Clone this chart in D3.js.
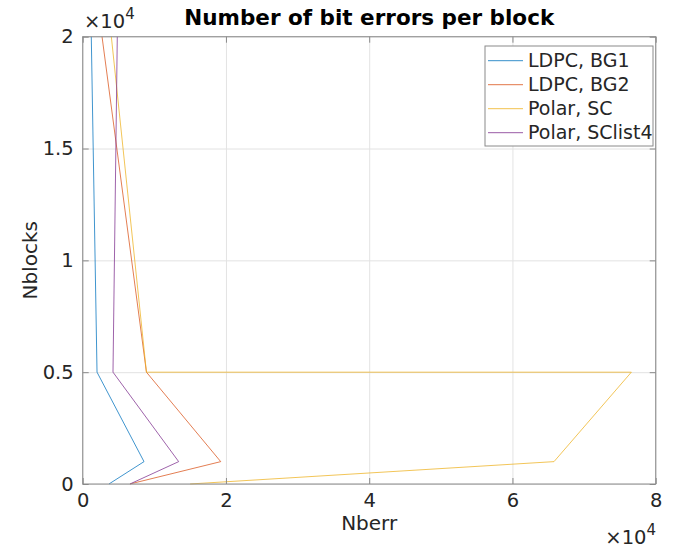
<!DOCTYPE html>
<html>
<head>
<meta charset="utf-8">
<script src="https://cdn.jsdelivr.net/npm/d3@7"></script>
<style>
  html, body { margin: 0; padding: 0; background: #fff; }
  svg { display: block; font-family: "DejaVu Sans", sans-serif; }
</style>
</head>
<body>
<svg id="chart" width="677" height="549"></svg>
<script>
// Number of blocks simulated (shared y values for every series)
const nblocks = [1, 1000, 5000, 5000, 20000];

// Accumulated bit errors for each coding scheme
const ldpcBG1  = [3670, 8560, 2000, 2000, 1200];
const ldpcBG2  = [6600, 19270, 8900, 8900, 2700];
const polarSC  = [15000, 65800, 76600, 8900, 4000];
const polarSCL = [6600, 13400, 4230, 4230, 4830];

const seriesNames  = ["LDPC, BG1", "LDPC, BG2", "Polar, SC", "Polar, SClist4"];
const seriesValues = [ldpcBG1, ldpcBG2, polarSC, polarSCL];
const seriesColors = ["#0072BD", "#D95319", "#EDB120", "#7E2F8E"];

// Axis ticks and their labels (values are shown scaled by 10^4)
const xTicks = [0, 20000, 40000, 60000, 80000];
const xTickLabels = ["0", "2", "4", "6", "8"];
const yTicks = [0, 5000, 10000, 15000, 20000];
const yTickLabels = ["0", "0.5", "1", "1.5", "2"];

const titleText = "Number of bit errors per block";
const xLabel = "Nberr";
const yLabel = "Nblocks";

const svg = d3.select("#chart");
const plotLeft = 82.7, plotRight = 655.7, plotTop = 36.7, plotBottom = 484;
const textColor = "#262626";
const frameColor = "#8a8a8a";

const x = d3.scaleLinear().domain([0, 80000]).range([plotLeft, plotRight]);
const y = d3.scaleLinear().domain([0, 20000]).range([plotBottom, plotTop]);

// Grid lines
const grid = svg.append("g").attr("class", "grid");
grid.append("g")
  .attr("transform", `translate(0,${plotBottom})`)
  .call(d3.axisBottom(x).tickValues(xTicks).tickSize(-(plotBottom - plotTop)).tickFormat(""))
  .call(g => g.select(".domain").remove());
grid.append("g")
  .attr("transform", `translate(${plotLeft},0)`)
  .call(d3.axisLeft(y).tickValues(yTicks).tickSize(-(plotRight - plotLeft)).tickFormat(""))
  .call(g => g.select(".domain").remove());
grid.selectAll("line").attr("stroke", "#e3e3e3").attr("stroke-width", 1);

// Data lines
const line = d3.line()
  .x(d => x(d[0]))
  .y(d => y(d[1]));

seriesValues.forEach((vals, i) => {
  const pts = vals.map((v, k) => [v, nblocks[k]]);
  svg.append("path")
    .datum(pts)
    .attr("fill", "none")
    .attr("stroke", seriesColors[i])
    .attr("stroke-width", 0.75)
    .attr("stroke-linejoin", "miter")
    .attr("d", line);
});

// Axes with inward ticks
const tickLen = 6;
function styleAxis(g) {
  g.select(".domain").remove();
  g.selectAll(".tick line").attr("stroke", frameColor);
  g.selectAll(".tick text")
    .attr("fill", textColor)
    .style("font-size", "19.5px")
    .style("font-family", "DejaVu Sans, sans-serif");
}

svg.append("g")
  .attr("transform", `translate(0,${plotBottom})`)
  .call(d3.axisBottom(x).tickValues(xTicks)
    .tickFormat((d, i) => xTickLabels[i])
    .tickSizeInner(-tickLen).tickSizeOuter(0).tickPadding(9))
  .call(styleAxis);

svg.append("g")
  .attr("transform", `translate(0,${plotTop})`)
  .call(d3.axisTop(x).tickValues(xTicks).tickFormat("")
    .tickSizeInner(-tickLen).tickSizeOuter(0))
  .call(styleAxis);

svg.append("g")
  .attr("transform", `translate(${plotLeft},0)`)
  .call(d3.axisLeft(y).tickValues(yTicks)
    .tickFormat((d, i) => yTickLabels[i])
    .tickSizeInner(-tickLen).tickSizeOuter(0).tickPadding(9))
  .call(styleAxis);

svg.append("g")
  .attr("transform", `translate(${plotRight},0)`)
  .call(d3.axisRight(y).tickValues(yTicks).tickFormat("")
    .tickSizeInner(-tickLen).tickSizeOuter(0))
  .call(styleAxis);

// Axes frame
svg.append("rect")
  .attr("x", plotLeft).attr("y", plotTop)
  .attr("width", plotRight - plotLeft).attr("height", plotBottom - plotTop)
  .attr("fill", "none").attr("stroke", frameColor).attr("stroke-width", 1);

// Exponent labels
function exponent(xPos, yPos, anchor) {
  const t = svg.append("text")
    .attr("x", xPos).attr("y", yPos)
    .attr("text-anchor", anchor)
    .attr("fill", textColor)
    .style("font-size", "19.5px");
  t.append("tspan").text("\u00d710");
  t.append("tspan").attr("dy", -9).style("font-size", "15px").text("4");
}
exponent(84, 28, "start");
exponent(656, 544, "end");

// Title and axis labels
svg.append("text")
  .attr("x", (plotLeft + plotRight) / 2).attr("y", 25)
  .attr("text-anchor", "middle")
  .attr("fill", "#000")
  .style("font-size", "21.5px")
  .style("font-weight", "bold")
  .text(titleText);

svg.append("text")
  .attr("x", (plotLeft + plotRight) / 2).attr("y", 530)
  .attr("text-anchor", "middle")
  .attr("fill", textColor)
  .style("font-size", "20px")
  .text(xLabel);

svg.append("text")
  .attr("transform", `translate(37,${(plotTop + plotBottom) / 2}) rotate(-90)`)
  .attr("text-anchor", "middle")
  .attr("fill", textColor)
  .style("font-size", "20px")
  .text(yLabel);

// Legend
const lg = svg.append("g").attr("transform", "translate(485,46)");
lg.append("rect")
  .attr("width", 168).attr("height", 100)
  .attr("fill", "#fff").attr("stroke", frameColor).attr("stroke-width", 1);
seriesNames.forEach((name, i) => {
  const cy = 14.7 + i * 24;
  lg.append("line")
    .attr("x1", 3).attr("x2", 38)
    .attr("y1", cy).attr("y2", cy)
    .attr("stroke", seriesColors[i]).attr("stroke-width", 0.8);
  lg.append("text")
    .attr("x", 43).attr("y", cy)
    .attr("dy", "0.35em")
    .attr("fill", textColor)
    .style("font-size", "19px")
    .text(name);
});
</script>
</body>
</html>
